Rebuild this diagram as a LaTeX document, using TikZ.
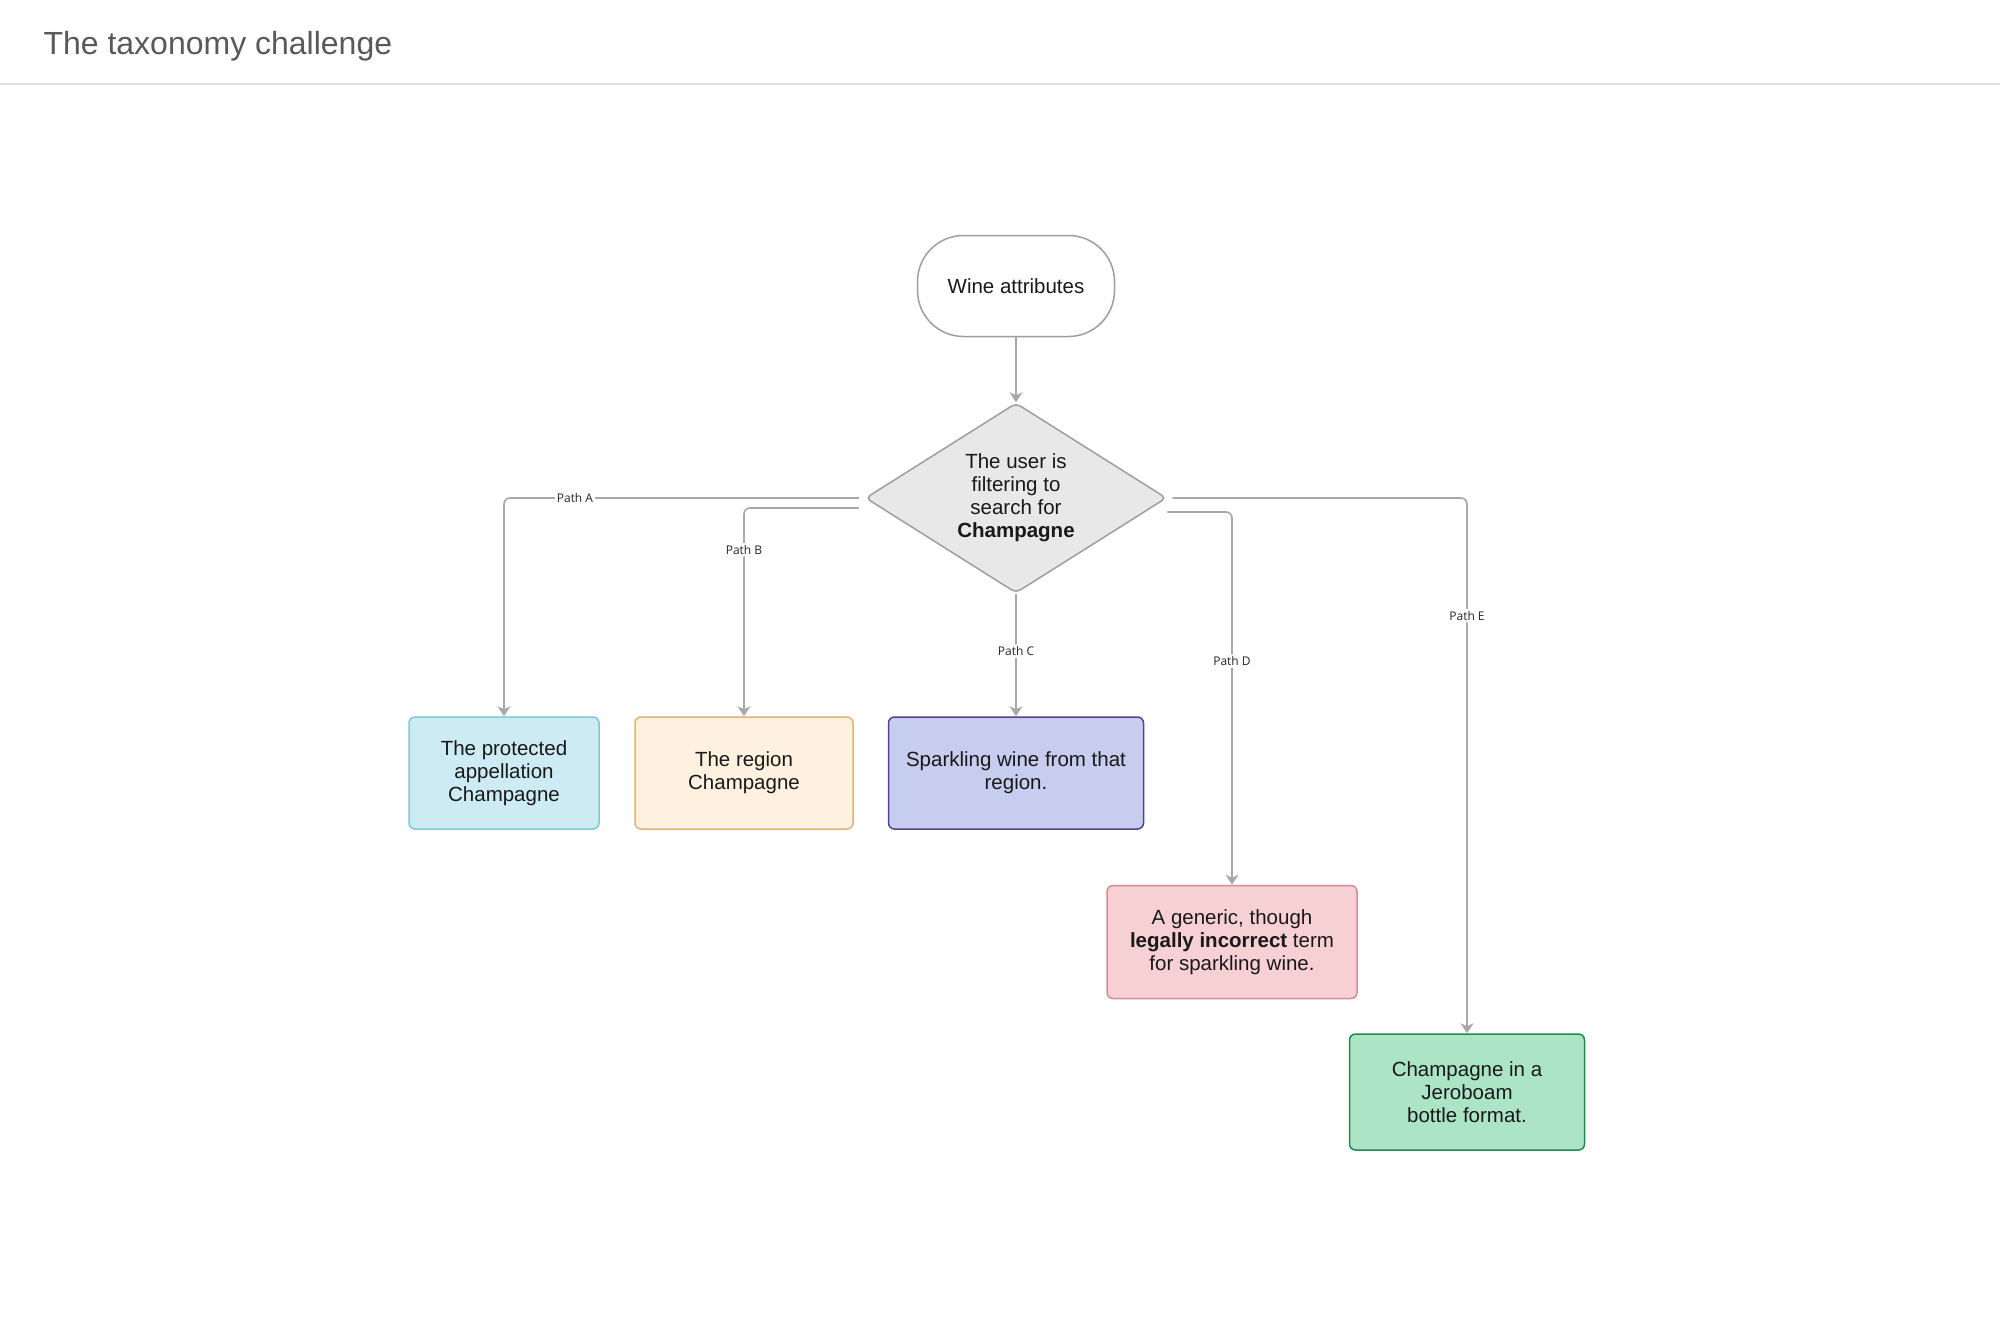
\documentclass[tikz,border=0pt]{standalone}
\usepackage{fontspec}
\setmainfont{Liberation Sans}
\newfontfamily\pathfont{Open Sans}
\usepackage{tikz}
\usepackage{xcolor}
\usetikzlibrary{shapes.geometric,arrows.meta}

\definecolor{titlegray}{HTML}{5A5858}
\definecolor{rulegray}{HTML}{DEDEDE}
\definecolor{linegray}{HTML}{A8A8A8}
\definecolor{shapegray}{HTML}{9E9E9E}
\definecolor{queryfill}{HTML}{E8E8E8}
\definecolor{protectedfill}{HTML}{CDEBF3}
\definecolor{protectedline}{HTML}{7EC8D8}
\definecolor{regionfill}{HTML}{FEF1DF}
\definecolor{regionline}{HTML}{E0B374}
\definecolor{sparklingfill}{HTML}{C7CDEE}
\definecolor{sparklingline}{HTML}{57418F}
\definecolor{genericfill}{HTML}{F6D0D2}
\definecolor{genericline}{HTML}{CF8E92}
\definecolor{jeroboamfill}{HTML}{ACE5C6}
\definecolor{jeroboamline}{HTML}{1E8A50}

\begin{document}
\begin{tikzpicture}[x=1pt, y=-1pt, font=\fontsize{20.5}{23}\selectfont,
  box/.style={draw, line width=1.5pt, rounded corners=6pt, align=center, inner sep=0pt, text=black!90},
  conn/.style={draw=linegray, line width=1.6pt, rounded corners=6pt, -{Stealth[length=10pt,width=13pt,inset=3pt]}},
  pathlbl/.style={fill=white, inner sep=2pt, text=black!85, font=\pathfont\fontsize{12}{14}\selectfont}]
\useasboundingbox (0,0) rectangle (2000,1333);
\node[anchor=base west, text=titlegray, font=\fontsize{32}{38}\selectfont] (title) at (40,54) {The taxonomy challenge};
\draw[rulegray, line width=1.5pt] (0,84) -- (2000,84);

\node[box, draw=shapegray, fill=white, rounded corners=46pt, minimum width=197pt, minimum height=101pt] (start) at (1016,286) {Wine attributes};
\node[box, diamond, aspect=1.6, draw=shapegray, fill=queryfill, rounded corners=5pt, minimum width=301pt, minimum height=190pt] (query) at (1016,498)
  {The user is\\filtering to\\search for\\\textbf{Champagne}};

\foreach \nm/\x/\y/\w/\h/\txt in {protected/504/773/190/112/{The protected\\appellation\\Champagne},
  region/744/773/218/112/{The region\\Champagne}, sparkling/1016/773/255/112/{Sparkling wine from that\\region.},
  generic/1232/942/250/113/{A generic, though\\\textbf{legally incorrect} term\\for sparkling wine.},
  jeroboam/1467/1092/235/116/{Champagne in a\\Jeroboam\\bottle format.}}
{\node[box, draw=\nm line, fill=\nm fill, minimum width=\w pt, minimum height=\h pt] (\nm) at (\x,\y) {\txt}; }

\draw[conn] (start) -- (query);
\draw[conn] ([xshift=-6pt]query.west) -| node[pathlbl, pos=0.4] {Path A} (protected.north);
\draw[conn] ([xshift=-6pt,yshift=-10pt]query.west) -| node[pathlbl, pos=0.6] {Path B} (region.north);
\draw[conn] (query.south) -- node[pathlbl, pos=0.47] {Path C} (sparkling.north);
\draw[conn] ([yshift=-14pt]query.east) -| node[pathlbl, pos=0.7] {Path D} (generic.north);
\draw[conn] ([xshift=5pt]query.east) -| node[pathlbl, pos=0.61] {Path E} (jeroboam.north);
\end{tikzpicture}
\end{document}
